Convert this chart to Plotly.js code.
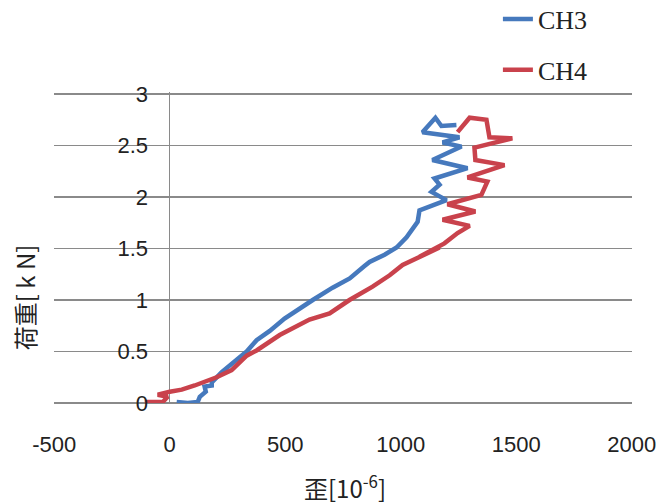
<!DOCTYPE html>
<html>
<head>
<meta charset="utf-8">
<script src="https://cdn.plot.ly/plotly-3.0.1.min.js"></script>
<style>html,body{margin:0;padding:0;background:#fff;}#chart{width:659px;height:504px;}</style>
</head>
<body>
<div id="chart"></div>
<script>
// CH3 strain [10^-6] and load [kN]
const ch3Strain = [30, 78, 121, 130, 156, 151, 182, 182, 225, 281, 333, 376, 433, 497, 562, 619, 705, 779, 843, 865, 930, 982, 1025, 1051, 1073, 1081, 1198, 1133, 1168, 1146, 1289, 1137, 1263, 1181, 1254, 1094, 1150, 1176, 1241];
const ch3Load   = [0.01, 0.0, 0.01, 0.06, 0.11, 0.16, 0.17, 0.20, 0.30, 0.41, 0.50, 0.61, 0.70, 0.82, 0.92, 1.00, 1.12, 1.21, 1.33, 1.37, 1.44, 1.51, 1.61, 1.70, 1.76, 1.87, 1.97, 2.05, 2.12, 2.18, 2.28, 2.36, 2.49, 2.53, 2.58, 2.63, 2.77, 2.69, 2.70];
// CH4 strain [10^-6] and load [kN]
const ch4Strain = [-108, -30, -9, -52, 0, 52, 108, 203, 268, 333, 376, 476, 605, 692, 778, 878, 952, 1008, 1168, 1081, 1189, 1246, 1298, 1181, 1323, 1202, 1349, 1375, 1289, 1449, 1323, 1319, 1483, 1384, 1371, 1298, 1246];
const ch4Load   = [0.01, 0.01, 0.06, 0.08, 0.11, 0.13, 0.17, 0.25, 0.32, 0.46, 0.51, 0.66, 0.81, 0.87, 1.00, 1.13, 1.24, 1.34, 1.51, 1.42, 1.55, 1.65, 1.72, 1.78, 1.86, 1.93, 2.02, 2.15, 2.19, 2.31, 2.36, 2.48, 2.57, 2.58, 2.75, 2.77, 2.63];
const seriesNames = ['CH3', 'CH4'];
const xTicks = [-500, 0, 500, 1000, 1500, 2000];
const yTicks = [0, 0.5, 1, 1.5, 2, 2.5, 3];

const tickFont = {family: '"Liberation Sans", Arial, sans-serif', size: 22, color: '#222'};

const traces = [
  {x: ch3Strain, y: ch3Load, name: seriesNames[0], mode: 'lines', legendgroup: 'a',
   line: {color: '#4679bd', width: 4.5}},
  {x: ch4Strain, y: ch4Load, name: seriesNames[1], mode: 'lines', legendgroup: 'b',
   line: {color: '#c9424c', width: 4.5}}
];

const layout = {
  width: 659, height: 504,
  margin: {l: 54, r: 27, t: 92, b: 101, autoexpand: false},
  paper_bgcolor: '#fff', plot_bgcolor: '#fff',
  showlegend: true,
  legend: {x: 0.768, y: 1.31, xanchor: 'left', yanchor: 'top',
           font: {family: '"Liberation Serif", "DejaVu Serif", serif', size: 26, color: '#222'},
           tracegroupgap: 14, bgcolor: 'rgba(0,0,0,0)'},
  xaxis: {range: [-501, 2001], tickvals: xTicks, ticktext: xTicks.map(String),
          showgrid: false, zeroline: true, zerolinecolor: '#8a8a8a', zerolinewidth: 1.5,
          showline: false, ticks: '', ticklabelstandoff: 26, tickfont: tickFont,
          fixedrange: true},
  yaxis: {range: [0, 3.02], tickvals: yTicks, ticktext: yTicks.map(String),
          anchor: 'free', position: 0.2007,
          showgrid: true, gridcolor: '#8a8a8a', gridwidth: 1.5,
          zeroline: true, zerolinecolor: '#8a8a8a', zerolinewidth: 1.5,
          showline: false, ticks: '', ticklabelstandoff: 22, tickfont: tickFont,
          fixedrange: true},
  annotations: [
    {text: '荷重[ k N]', xref: 'paper', yref: 'paper', x: -0.052, y: 0.34,
     xanchor: 'center', yanchor: 'middle', textangle: -90, showarrow: false,
     font: {family: '"Noto Sans CJK JP", sans-serif', size: 24, color: '#222'}},
    {text: '歪[10<sup>-6</sup>]', xref: 'paper', yref: 'paper', x: 0.503, y: -0.27,
     xanchor: 'center', yanchor: 'middle', showarrow: false,
     font: {family: '"Noto Sans CJK JP", sans-serif', size: 24, color: '#222'}}
  ]
};

Plotly.newPlot('chart', traces, layout, {displayModeBar: false, staticPlot: true});
</script>
</body>
</html>
